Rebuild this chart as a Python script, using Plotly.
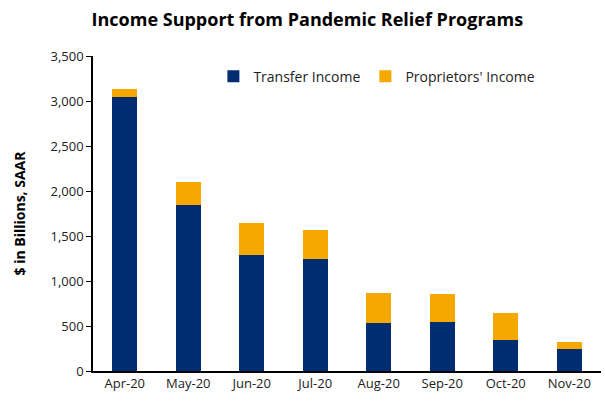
import plotly.graph_objects as go

months = ["Apr-20", "May-20", "Jun-20", "Jul-20", "Aug-20", "Sep-20", "Oct-20", "Nov-20"]
transfer_income = [3040, 1845, 1290, 1245, 530, 545, 340, 240]
proprietors_income = [95, 250, 355, 325, 335, 315, 305, 85]
y_ticks = [0, 500, 1000, 1500, 2000, 2500, 3000, 3500]

BLUE = "#002D72"
ORANGE = "#F5A800"
FONT = "Open Sans, Segoe UI, sans-serif"

fig = go.Figure()
fig.add_trace(go.Bar(x=months, y=transfer_income, name="Transfer Income",
                     marker=dict(color=BLUE, line=dict(width=0))))
fig.add_trace(go.Bar(x=months, y=proprietors_income, name="Proprietors' Income",
                     marker=dict(color=ORANGE, line=dict(width=0))))

fig.update_layout(
    barmode="stack",
    bargap=0.6,
    width=605, height=402,
    margin=dict(l=93, r=4, t=56, b=31),
    plot_bgcolor="white", paper_bgcolor="white",
    font=dict(family=FONT, size=13, color="#222"),
    title=dict(text="<b>Income Support from Pandemic Relief Programs</b>",
               x=0.508, xanchor="center", y=0.95, yanchor="middle",
               font=dict(size=18, color="black", family=FONT)),
    legend=dict(orientation="h", x=0.237, y=0.985, xanchor="left", yanchor="top",
                font=dict(size=14, color="#222"), traceorder="normal",
                itemwidth=30, bgcolor="rgba(0,0,0,0)"),
    showlegend=True,
)
fig.update_xaxes(showline=True, linecolor="black", linewidth=1.5, ticks="",
                 tickfont=dict(size=13), showgrid=False)
fig.update_yaxes(range=[0, 3500], tickvals=y_ticks, tickformat=",",
                 showline=True, linecolor="black", linewidth=1.5,
                 ticks="outside", ticklen=5, tickcolor="black",
                 showgrid=False, zeroline=False,
                 title=dict(text="<b>$ in Billions, SAAR</b>", standoff=22,
                            font=dict(size=14, color="black")),
                 tickfont=dict(size=13))

fig.write_html("out.html")
